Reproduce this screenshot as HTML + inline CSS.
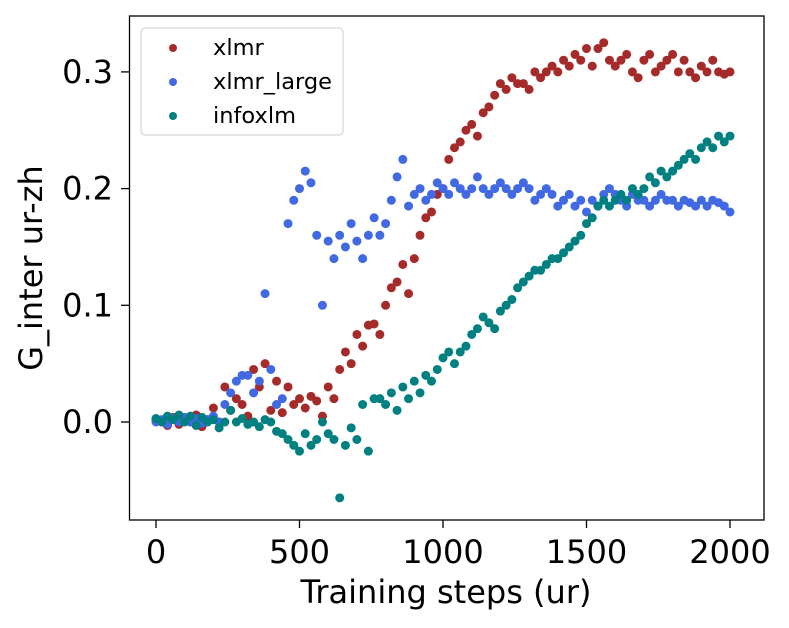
<!DOCTYPE html>
<html><head><meta charset="utf-8"><style>
body{margin:0;background:#fff;}
svg{display:block;font-family:"DejaVu Sans","Liberation Sans",sans-serif;}
</style></head><body>
<svg id="chart" width="789" height="628"></svg>
<script>
const stepsX=[];for(let i=0;i<=100;i++)stepsX.push(i*20);
const xlmrValues=[0.002,0.0,-0.003,0.004,-0.002,0.003,0.0,0.006,-0.004,0.002,
0.012,0.0,0.03,0.01,0.02,0.015,0.005,0.045,0.03,0.05,
0.01,0.035,0.008,0.03,0.015,0.02,0.012,0.022,0.018,0.005,
0.03,0.02,0.045,0.06,0.05,0.075,0.065,0.083,0.084,0.075,
0.1,0.115,0.12,0.135,0.11,0.14,0.16,0.175,0.18,0.195,
0.2,0.225,0.235,0.24,0.25,0.255,0.245,0.265,0.27,0.28,
0.29,0.285,0.295,0.29,0.29,0.285,0.3,0.295,0.3,0.305,
0.3,0.31,0.305,0.315,0.31,0.32,0.305,0.32,0.325,0.31,
0.305,0.31,0.315,0.3,0.295,0.31,0.315,0.3,0.305,0.31,
0.315,0.3,0.31,0.3,0.295,0.305,0.3,0.31,0.3,0.298,0.3];
const xlmrLargeValues=[0.0,0.002,-0.002,0.003,0.0,0.004,0.0,0.003,-0.001,0.002,
0.005,0.0,0.015,0.025,0.035,0.04,0.04,0.025,0.035,0.11,
0.045,0.015,0.02,0.17,0.19,0.2,0.215,0.205,0.16,0.1,
0.155,0.14,0.16,0.15,0.17,0.155,0.14,0.16,0.175,0.16,
0.17,0.19,0.21,0.225,0.185,0.195,0.2,0.19,0.195,0.205,
0.2,0.195,0.205,0.2,0.195,0.2,0.21,0.2,0.195,0.2,
0.205,0.2,0.195,0.2,0.205,0.2,0.19,0.195,0.2,0.195,
0.185,0.19,0.195,0.185,0.19,0.18,0.19,0.185,0.195,0.2,
0.195,0.19,0.185,0.195,0.19,0.19,0.185,0.19,0.195,0.19,
0.19,0.185,0.19,0.188,0.185,0.19,0.185,0.19,0.188,0.185,0.18];
const infoxlmValues=[0.003,0.0,0.005,0.002,0.006,0.0,0.005,-0.003,0.004,0.0,
0.002,-0.005,0.0,0.01,0.0,0.003,-0.002,0.0,-0.004,0.002,
0.0,-0.008,-0.01,-0.015,-0.02,-0.025,-0.01,-0.02,-0.015,0.0,
-0.01,-0.015,-0.065,-0.02,-0.005,-0.015,0.015,-0.025,0.02,0.02,
0.015,0.025,0.01,0.03,0.02,0.035,0.025,0.04,0.035,0.045,
0.055,0.06,0.05,0.06,0.065,0.075,0.08,0.09,0.085,0.08,
0.095,0.1,0.105,0.115,0.12,0.125,0.13,0.13,0.135,0.14,
0.14,0.145,0.15,0.155,0.16,0.17,0.175,0.185,0.19,0.185,
0.19,0.195,0.19,0.2,0.195,0.2,0.21,0.205,0.215,0.21,
0.215,0.22,0.225,0.23,0.225,0.235,0.24,0.235,0.245,0.24,0.245];
const xTicks=[0,500,1000,1500,2000];
const yTicks=[0.0,0.1,0.2,0.3];
const yTickLabels=["0.0","0.1","0.2","0.3"];
const seriesNames=["xlmr","xlmr_large","infoxlm"];
const seriesColors=["#a52a2a","#4169e1","#008080"];

const NS="http://www.w3.org/2000/svg";
const svg=document.getElementById('chart');
function X(v){return 156+(v/2000)*574;}
function Y(v){return 422-v*1167;}
function mk(tag,attrs,parent){const e=document.createElementNS(NS,tag);for(const k in attrs)e.setAttribute(k,attrs[k]);(parent||svg).appendChild(e);return e;}

const allSeries=[xlmrValues,xlmrLargeValues,infoxlmValues];
allSeries.forEach((vals,s)=>{
  const g=mk('g',{});
  
  
  vals.forEach((v,i)=>{
    const c=mk('circle',{cx:X(stepsX[i]),cy:Y(v),r:4.5,fill:seriesColors[s]},g);
    
    
  });
});

const frame=mk('rect',{x:129.5,y:16,width:634.5,height:504,fill:'none',stroke:'#000','stroke-width':1.3});



xTicks.forEach(t=>{
  mk('line',{x1:X(t),x2:X(t),y1:520,y2:528,stroke:'#000','stroke-width':1.3});
  const tx=mk('text',{x:X(t),y:563,'font-size':32,'text-anchor':'middle'});
  tx.textContent=t;
  
  
});
yTicks.forEach((t,i)=>{
  mk('line',{x1:121,x2:129.5,y1:Y(t),y2:Y(t),stroke:'#000','stroke-width':1.3});
  const tx=mk('text',{x:113,y:Y(t)+11,'font-size':32,'text-anchor':'end'});
  tx.textContent=yTickLabels[i];
  
  
});
const xl=mk('text',{x:446,y:603,'font-size':32,'text-anchor':'middle'});
xl.textContent='Training steps (ur)';


const yl=mk('text',{x:0,y:0,'font-size':32,'text-anchor':'middle',transform:'translate(42,268) rotate(-90)'});
yl.textContent='G_inter ur-zh';



const lg=mk('g',{});


mk('rect',{x:141,y:28,width:202,height:107,rx:4,fill:'#fff','fill-opacity':0.8,stroke:'#ccc','stroke-width':1},lg);
seriesNames.forEach((n,i)=>{
  const yy=48+i*34;
  const e=mk('g',{},lg);
  
  
  mk('circle',{cx:173,cy:yy,r:4,fill:seriesColors[i]},e);
  const t=mk('text',{x:213,y:yy+7,'font-size':22.5},e);
  t.textContent=n;
});
</script>
</body></html>
